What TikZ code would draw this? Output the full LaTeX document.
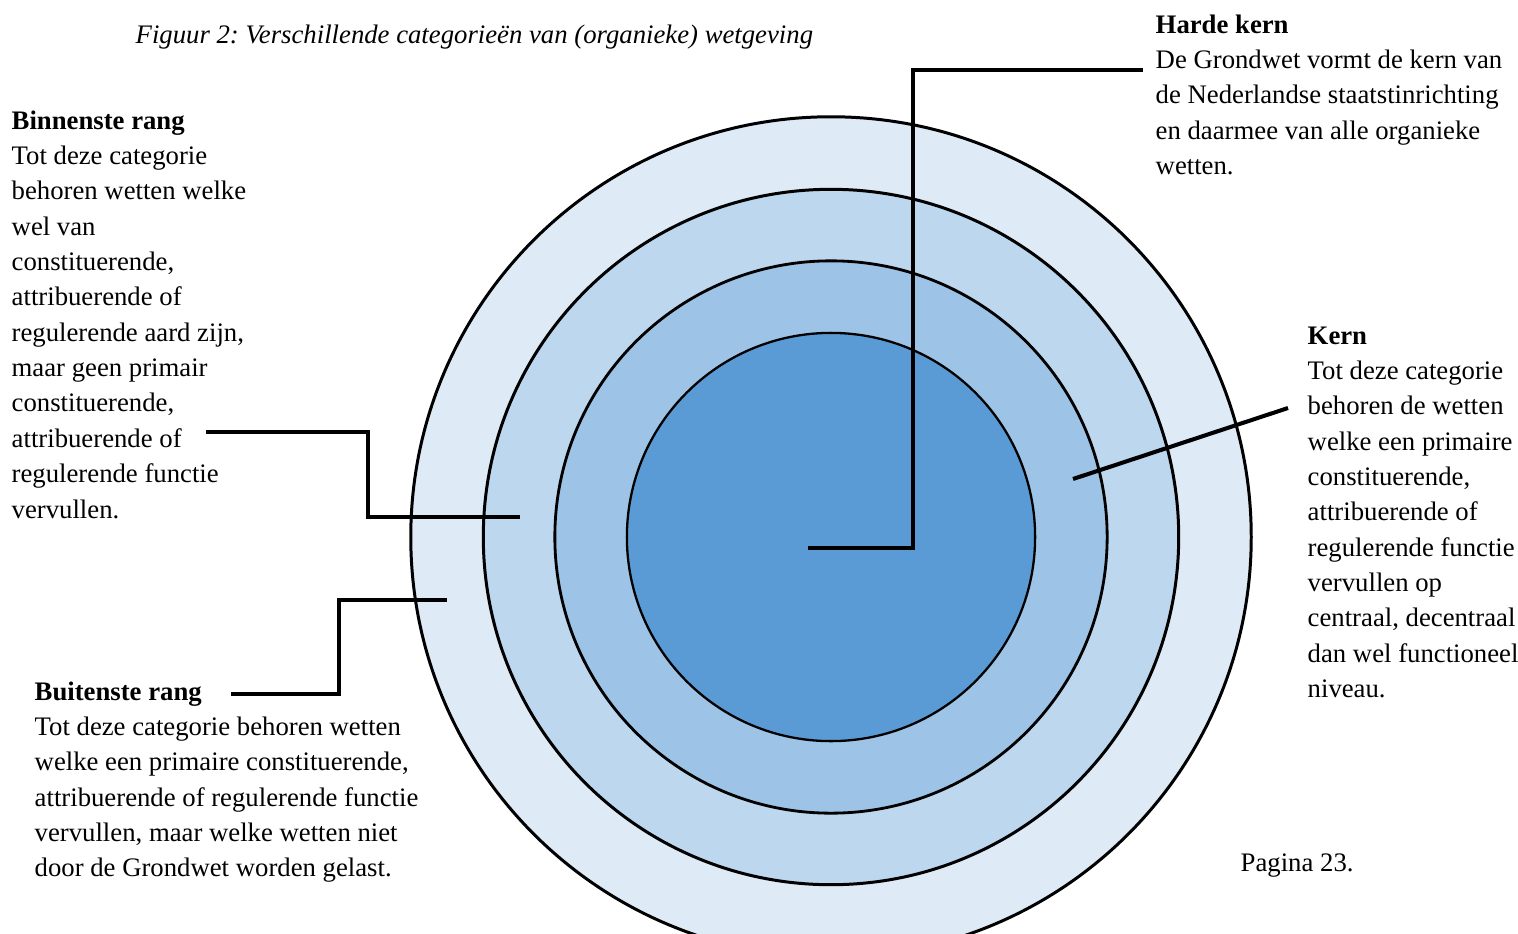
\documentclass[tikz,border=0pt]{standalone}
\usepackage{fontspec}
\setmainfont{Liberation Serif}
\frenchspacing
\usetikzlibrary{
	positioning,
	calc
}
\definecolor{ring1}{HTML}{DEEAF6}
\definecolor{ring2}{HTML}{BDD7EE}
\definecolor{ring3}{HTML}{9DC3E6}
\definecolor{ring4}{HTML}{5B9BD5}

\begin{document}
\begin{tikzpicture}[
  x=0.01cm, y=-0.01cm,
  ring/.style={circle, draw, inner sep=0pt},
  tekst/.style={anchor=north west, inner sep=0pt, align=left,
    font=\fontsize{7.6}{10.05}\selectfont},
  lijn/.style={line width=1.15pt}
]
\useasboundingbox (0,0) rectangle (1518,933);
\clip (0,0) rectangle (1518,933);
\coordinate (midden) at (831,537);
\foreach \naam/\d/\kleur/\dikte in {
  buiten/8.4cm/ring1/0.85pt,
  binnen/6.95cm/ring2/0.85pt,
  kern/5.52cm/ring3/0.8pt,
  hard/4.08cm/ring4/0.65pt}
{
  \node[ring, minimum size=\d, fill=\kleur, line width=\dikte] (\naam) at (midden) {};
}
\node[tekst, font=\fontsize{7.6}{10.05}\selectfont\itshape] (titel) at (135,24)
  {Figuur 2: Verschillende categorieën van (organieke) wetgeving};
\node[tekst] (hardetekst) at (1155,14) {\textbf{Harde kern}\\
  De Grondwet vormt de kern van\\de Nederlandse staatstinrichting\\
  en daarmee van alle organieke\\wetten.};
\node[tekst] (kerntekst) at (1307,326) {\textbf{Kern}\\Tot deze categorie\\
  behoren de wetten\\welke een primaire\\constituerende,\\attribuerende of\\
  regulerende functie\\vervullen op\\centraal, decentraal\\
  dan wel functioneel\\niveau.};
\node[tekst] (binnentekst) at (11,110) {\textbf{Binnenste rang}\\Tot deze categorie\\
  behoren wetten welke\\wel van\\constituerende,\\attribuerende of\\
  regulerende aard zijn,\\maar geen primair\\constituerende,\\attribuerende of\\
  regulerende functie\\vervullen.};
\node[tekst] (buitentekst) at (34,681) {\textbf{Buitenste rang}\\
  Tot deze categorie behoren wetten\\welke een primaire constituerende,\\
  attribuerende of regulerende functie\\vervullen, maar welke wetten niet\\
  door de Grondwet worden gelast.};
\node[tekst] (pagina) at (1240,853) {Pagina 23.};
% verbindingslijnen
\coordinate (hkbegin) at (808,548);
\coordinate (hkeind) at (1143,70);
\coordinate (kbegin) at (1073,479);
\coordinate (keind) at (1288,408);
\coordinate (brbegin) at (206,432);
\coordinate (breind) at (520,517);
\coordinate (bubegin) at (231,694);
\coordinate (bueind) at (447,600);
\draw[lijn] (hkbegin) -- ++(105,0) |- (hkeind);
\draw[lijn] (kbegin) -- (keind);
\draw[lijn] (brbegin) -- ++(162,0) |- (breind);
\draw[lijn] (bubegin) -- ++(108,0) |- (bueind);
\end{tikzpicture}
\end{document}
